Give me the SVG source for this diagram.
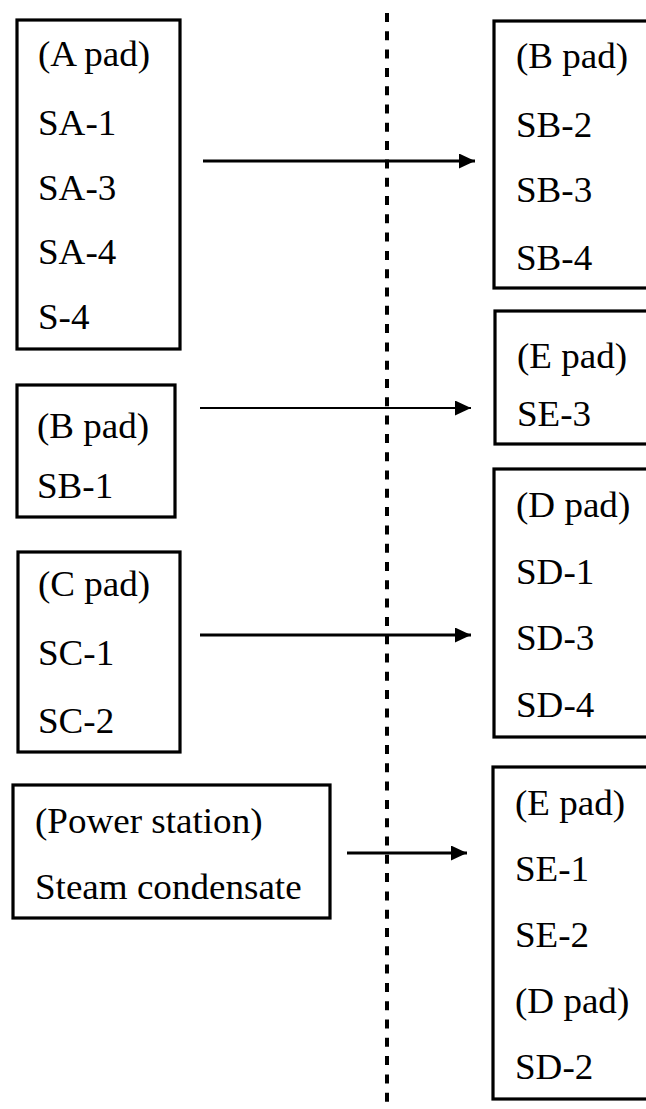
<svg xmlns="http://www.w3.org/2000/svg" width="646" height="1109" viewBox="0 0 646 1109">
<style>
.box{fill:#fff;stroke:#000;stroke-width:3.2}
.t{font-family:"Liberation Serif","Times New Roman",serif;font-size:36px;fill:#000}
.c{stroke:#000;fill:none}
</style>
<defs>
<marker id="ah" markerUnits="userSpaceOnUse" markerWidth="18" markerHeight="16" refX="16" refY="7.5" orient="auto">
<path d="M0,0 L16,7.5 L0,15 Z" fill="#000"/>
</marker>
</defs>
<rect width="646" height="1109" fill="#fff"/>
<g id="divider">
<line x1="387" y1="13" x2="387" y2="1109" stroke="#000" stroke-width="4" stroke-dasharray="9,9.3"/>
</g>
<g id="nodeA">
<rect class="box" x="17" y="20" width="163" height="329"/>
<text class="t" transform="translate(38,66) scale(1.03,1)">(A pad)</text>
<text class="t" transform="translate(38,135) scale(1.03,1)">SA-1</text>
<text class="t" transform="translate(38,200) scale(1.03,1)">SA-3</text>
<text class="t" transform="translate(38,264) scale(1.03,1)">SA-4</text>
<text class="t" transform="translate(38,329) scale(1.03,1)">S-4</text>
</g>
<g id="nodeBleft">
<rect class="box" x="17" y="385" width="158" height="132"/>
<text class="t" transform="translate(37,438) scale(1.03,1)">(B pad)</text>
<text class="t" transform="translate(37,498) scale(1.03,1)">SB-1</text>
</g>
<g id="nodeC">
<rect class="box" x="18" y="552" width="162" height="200"/>
<text class="t" transform="translate(38,596) scale(1.03,1)">(C pad)</text>
<text class="t" transform="translate(38,665) scale(1.03,1)">SC-1</text>
<text class="t" transform="translate(38,733) scale(1.03,1)">SC-2</text>
</g>
<g id="nodePower">
<rect class="box" x="13" y="785" width="317" height="133"/>
<text class="t" transform="translate(35,833) scale(1.03,1)">(Power station)</text>
<text class="t" transform="translate(35,899) scale(1.03,1)">Steam condensate</text>
</g>
<g id="nodeBright">
<rect class="box" x="494" y="21" width="180" height="267"/>
<text class="t" transform="translate(516,68) scale(1.03,1)">(B pad)</text>
<text class="t" transform="translate(516,137) scale(1.03,1)">SB-2</text>
<text class="t" transform="translate(516,202) scale(1.03,1)">SB-3</text>
<text class="t" transform="translate(516,270) scale(1.03,1)">SB-4</text>
</g>
<g id="nodeE1">
<rect class="box" x="495" y="311" width="180" height="133"/>
<text class="t" transform="translate(517,368) scale(1.03,1)">(E pad)</text>
<text class="t" transform="translate(517,426) scale(1.03,1)">SE-3</text>
</g>
<g id="nodeD">
<rect class="box" x="494" y="469" width="180" height="268"/>
<text class="t" transform="translate(516,517) scale(1.03,1)">(D pad)</text>
<text class="t" transform="translate(516,584) scale(1.03,1)">SD-1</text>
<text class="t" transform="translate(516,650) scale(1.03,1)">SD-3</text>
<text class="t" transform="translate(516,717) scale(1.03,1)">SD-4</text>
</g>
<g id="nodeE2">
<rect class="box" x="493" y="767" width="180" height="332"/>
<text class="t" transform="translate(515,815) scale(1.03,1)">(E pad)</text>
<text class="t" transform="translate(515,881) scale(1.03,1)">SE-1</text>
<text class="t" transform="translate(515,947) scale(1.03,1)">SE-2</text>
<text class="t" transform="translate(515,1013) scale(1.03,1)">(D pad)</text>
<text class="t" transform="translate(515,1079) scale(1.03,1)">SD-2</text>
</g>
<g id="connectors">
<path class="c" d="M203,161 H475" stroke-width="3.2" marker-end="url(#ah)"/>
<path class="c" d="M200,408 H471" stroke-width="1.8" marker-end="url(#ah)"/>
<path class="c" d="M200,635 H471" stroke-width="3.2" marker-end="url(#ah)"/>
<path class="c" d="M347,853 H467" stroke-width="3.2" marker-end="url(#ah)"/>
</g>
</svg>
